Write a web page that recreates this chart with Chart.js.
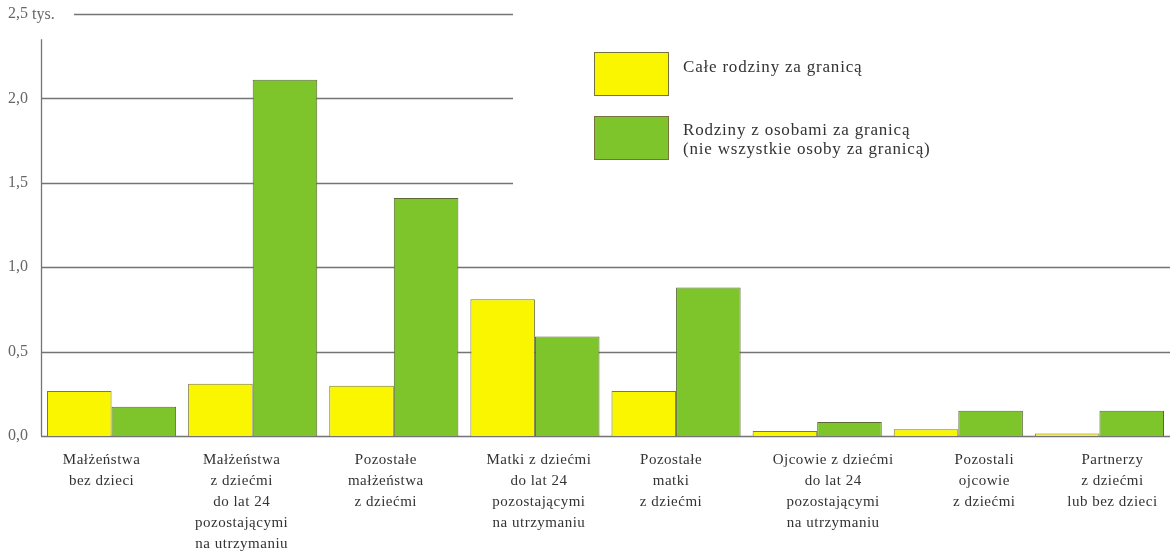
<!DOCTYPE html>
<html>
<head>
<meta charset="utf-8">
<script src="https://cdn.jsdelivr.net/npm/chart.js@4.4.0/dist/chart.umd.min.js"></script>
<style>
body { margin: 0; background: #fff; }
#wrap { position: relative; width: 1172px; height: 551px; }
.key { position: absolute; width: 75px; height: 44px; border: 1px solid #77733f; box-sizing: border-box; }
.txt { position: absolute; font: 17px 'Liberation Serif', serif; color: #333; line-height: 19px; letter-spacing: 0.8px; white-space: nowrap; }
</style>
</head>
<body>
<div id="wrap">
	<canvas id="graph"></canvas>
	<div class="key" style="left:594px;top:52px;background:#faf600"></div>
	<div class="txt" style="left:683px;top:57px">Całe rodziny za granicą</div>
	<div class="key" style="left:594px;top:116px;background:#7dc52b"></div>
	<div class="txt" style="left:683px;top:120px">Rodziny z osobami za granicą<br>(nie wszystkie osoby za granicą)</div>
</div>
<script>
var categories = [
	['Małżeństwa', 'bez dzieci'],
	['Małżeństwa', 'z dziećmi', 'do lat 24', 'pozostającymi', 'na utrzymaniu'],
	['Pozostałe', 'małżeństwa', 'z dziećmi'],
	['Matki z dziećmi', 'do lat 24', 'pozostającymi', 'na utrzymaniu'],
	['Pozostałe', 'matki', 'z dziećmi'],
	['Ojcowie z dziećmi', 'do lat 24', 'pozostającymi', 'na utrzymaniu'],
	['Pozostali', 'ojcowie', 'z dziećmi'],
	['Partnerzy', 'z dziećmi', 'lub bez dzieci']
]
var caleRodziny = [0.267, 0.309, 0.297, 0.81, 0.267, 0.03, 0.04, 0.015]
var czescRodziny = [0.174, 2.11, 1.41, 0.59, 0.88, 0.083, 0.15, 0.15]
var yTicks = [0, 0.5, 1.0, 1.5, 2.0, 2.5]

// przesuniecie podpisow kategorii wzgledem srodka grupy (jak w oryginale)
var labelShift = [-10, -11, -8, 4, -5, 16, 26, 13]

var backdrop = {
	id: 'backdrop',
	// siatka rysowana recznie - legenda zaslania gorna prawa czesc
	beforeDatasetsDraw: function (chart) {
		var ctx = chart.ctx
		var area = chart.chartArea
		var y = chart.scales.y
		ctx.save()
		ctx.strokeStyle = '#747474'
		ctx.lineWidth = 1.3
		yTicks.forEach(function (v) {
			var py = Math.round(y.getPixelForValue(v)) + 0.5
			var x0 = v === 2.5 ? 74 : area.left
			var x1 = v >= 1.5 ? 513 : area.right
			ctx.beginPath()
			ctx.moveTo(x0, py)
			ctx.lineTo(x1, py)
			ctx.stroke()
		})
		ctx.beginPath()
		ctx.moveTo(area.left + 0.5, y.getPixelForValue(2.35))
		ctx.lineTo(area.left + 0.5, area.bottom)
		ctx.stroke()
		ctx.restore()
	},
	afterDraw: function (chart) {
		var ctx = chart.ctx
		var x = chart.scales.x
		var y = chart.scales.y
		ctx.save()
		ctx.font = '15px "Liberation Serif"'
		ctx.fillStyle = '#333'
		ctx.textAlign = 'center'
		ctx.textBaseline = 'middle'
		ctx.letterSpacing = '0.5px'
		categories.forEach(function (lines, i) {
			var cx = x.getPixelForValue(i) + labelShift[i]
			lines.forEach(function (t, j) {
				ctx.fillText(t, cx, chart.chartArea.bottom + 24 + j * 21)
			})
		})
		// dopisek jednostki przy najwyzszej wartosci osi
		ctx.letterSpacing = '0px'
		ctx.font = '16px "Liberation Serif"'
		ctx.fillStyle = '#666'
		ctx.textAlign = 'left'
		var w = ctx.measureText('2,5 ').width
		ctx.fillText('tys.', 8 + w, y.getPixelForValue(2.5) + 1)
		ctx.restore()
	}
}

var ctx = document.getElementById('graph').getContext('2d')
var myChart = new Chart(ctx, {
	type: 'bar',
	data: {
		labels: categories.map(function (l) { return l.join(' ') }),
		datasets: [{
			label: 'Całe rodziny za granicą',
			data: caleRodziny,
			backgroundColor: '#faf600',
			borderColor: '#7d7a3c',
			borderWidth: 1
		}, {
			label: 'Rodziny z osobami za granicą (nie wszystkie osoby za granicą)',
			data: czescRodziny,
			backgroundColor: '#7dc52b',
			borderColor: '#5a6936',
			borderWidth: 1
		}]
	},
	options: {
		responsive: true,
		maintainAspectRatio: false,
		animation: false,
		categoryPercentage: 0.915,
		barPercentage: 1.0,
		layout: { padding: { top: 14, left: 8, right: 2, bottom: 115 } },
		plugins: {
			legend: { display: false },
			tooltip: { enabled: false }
		},
		scales: {
			x: {
				display: false
			},
			y: {
				min: 0,
				max: 2.5,
				grid: { display: false, drawTicks: false },
				border: { display: false },
				ticks: {
					stepSize: 0.5,
					crossAlign: 'far',
					color: '#666',
					font: { family: 'Liberation Serif', size: 16 },
					callback: function (v) {
						return v.toFixed(1).replace('.', ',')
					}
				},
				afterFit: function (scale) { scale.width = 33 }
			}
		}
	},
	plugins: [backdrop]
})
</script>
</body>
</html>
